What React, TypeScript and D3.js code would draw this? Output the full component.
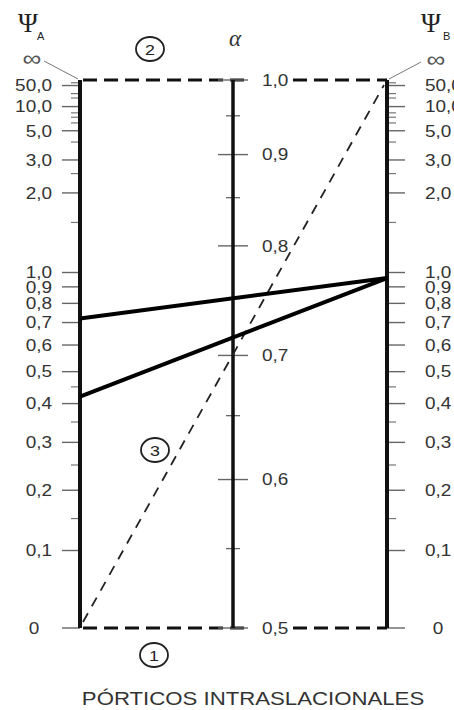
import React from 'react';
import * as d3 from 'd3';

// Ψ scale ticks (both outer axes)
const G_MAJOR = [50, 10, 5, 3, 2, 1, 0.9, 0.8, 0.7, 0.6, 0.5, 0.4, 0.3, 0.2, 0.1, 0];
const G_LABELS = ['50,0', '10,0', '5,0', '3,0', '2,0', '1,0', '0,9', '0,8', '0,7', '0,6', '0,5', '0,4', '0,3', '0,2', '0,1', '0'];
const G_MINOR = [100, 20, 15, 8, 7, 6, 4, 2.5, 1.5, 0.45, 0.35, 0.25, 0.15];

// α scale ticks (middle axis)
const K_MAJOR = [1.0, 0.9, 0.8, 0.7, 0.6, 0.5];
const K_LABELS = ['1,0', '0,9', '0,8', '0,7', '0,6', '0,5'];
const K_MINOR = [0.95, 0.85, 0.75, 0.65, 0.55];

// example readings: Ψ_A -> Ψ_B
const EX_GA = [0.72, 0.42];
const EX_GB = [0.96, 0.96];
// guide line (3): Ψ_A = 0 to Ψ_B = ∞
const GUIDE_GA = 0;
const GUIDE_GB = Infinity;

const W = 454;
const H = 710;
const xA = 80, xK = 233, xB = 387;

const FONT = 'Liberation Sans, Arial, sans-serif';
const SERIF = 'Liberation Serif, Times New Roman, serif';
const INK = '#333';

// nomograph position of Ψ: fraction 0 (Ψ=0) .. 1 (Ψ=∞)
const gFrac = (g: number) => {
  if (!isFinite(g)) return 1;
  const c = 0.51 + 0.11 * Math.exp(-g / 0.8);
  return g / (g + c);
};
const y = d3.scaleLinear().domain([0, 1]).range([628, 80]);
const yG = (g: number) => y(gFrac(g));

// α -> equivalent Ψ (Ψ_A = Ψ_B), braced-frame alignment equation
const kToG = (k: number) => {
  const x = Math.PI / k;
  const a = (x * x) / 4;
  const b = 1 - x / Math.tan(x);
  const c = (2 * Math.tan(x / 2)) / x - 1;
  return (-b + Math.sqrt(b * b - 4 * a * c)) / (2 * a);
};
const yK = (k: number) => (k >= 0.999 ? y(1) : k <= 0.501 ? y(0) : yG(kToG(k)));

const Txt: React.FC<{ x: number; y: number; anchor?: string; size?: number; fill?: string; sx?: number; children: React.ReactNode }> = ({ x, y, anchor = 'start', size = 16.5, fill = INK, sx = 1.15, children }) => (
  <text transform={`translate(${x},${y}) scale(${sx},1)`} textAnchor={anchor} fontSize={size} fill={fill} fontFamily={FONT} dy="0.35em">
    {children}
  </text>
);

const Badge: React.FC<{ cx: number; cy: number; n: string }> = ({ cx, cy, n }) => (
  <g>
    <ellipse cx={cx} cy={cy} rx={14} ry={12} fill="white" stroke="#222" strokeWidth={1.8} />
    <Txt x={cx} y={cy + 0.5} anchor="middle" size={15.5} fill="#222">{n}</Txt>
  </g>
);

export default function App() {
  const top = y(1);
  const bot = y(0);
  return (
    <svg width={W} height={H} style={{ position: 'absolute', left: 0, top: 0, background: 'white' }}>
      {/* top and bottom dashed borders */}
      {[top, bot].map((yy, i) => (
        <g key={i} stroke="#111" strokeWidth={3} strokeDasharray="14,7">
          <line x1={xA + 3} x2={xK + 18} y1={yy} y2={yy} />
          <line x1={xK + 60} x2={xB} y1={yy} y2={yy} />
        </g>
      ))}

      {/* ticks on Ψ axes */}
      {G_MAJOR.map((g, i) => (
        <g key={'gm' + i} stroke="#666" strokeWidth={1.4}>
          <line x1={xA - 18} x2={xA} y1={yG(g)} y2={yG(g)} />
          <line x1={xB} x2={xB + 18} y1={yG(g)} y2={yG(g)} />
        </g>
      ))}
      {G_MINOR.map((g, i) => (
        <g key={'gn' + i} stroke="#777" strokeWidth={1.2}>
          <line x1={xA - 9} x2={xA} y1={yG(g)} y2={yG(g)} />
          <line x1={xB} x2={xB + 9} y1={yG(g)} y2={yG(g)} />
        </g>
      ))}
      {G_MAJOR.map((g, i) =>
        g === 0 ? (
          <g key={'gl' + i}>
            <Txt x={34} y={yG(g)} anchor="middle">{G_LABELS[i]}</Txt>
            <Txt x={438} y={yG(g)} anchor="middle">{G_LABELS[i]}</Txt>
          </g>
        ) : (
          <g key={'gl' + i}>
            <Txt x={52} y={yG(g)} anchor="end">{G_LABELS[i]}</Txt>
            <Txt x={425} y={yG(g)}>{G_LABELS[i]}</Txt>
          </g>
        )
      )}

      {/* ticks on α axis */}
      {K_MAJOR.map((k, i) => (
        <g key={'km' + i}>
          <line x1={xK - 15} x2={xK + 15} y1={yK(k)} y2={yK(k)} stroke="#666" strokeWidth={1.4} />
          <Txt x={262} y={yK(k)}>{K_LABELS[i]}</Txt>
        </g>
      ))}
      {K_MINOR.map((k, i) => (
        <line key={'kn' + i} x1={xK - 7} x2={xK + 7} y1={yK(k)} y2={yK(k)} stroke="#666" strokeWidth={1.3} />
      ))}

      {/* axes */}
      <line x1={xA} x2={xA} y1={top} y2={bot} stroke="#111" strokeWidth={4} />
      <line x1={xK} x2={xK} y1={top} y2={bot} stroke="#111" strokeWidth={3.5} />
      <line x1={xB} x2={xB} y1={top} y2={bot} stroke="#111" strokeWidth={4} />

      {/* guide line (3) */}
      <line x1={xA + 3} y1={yG(GUIDE_GA) - 6} x2={xB - 3} y2={yG(GUIDE_GB) + 5} stroke="#222" strokeWidth={1.8} strokeDasharray="10,8" />

      {/* example lines */}
      {EX_GA.map((ga, i) => (
        <line key={'ex' + i} x1={xA} y1={yG(ga)} x2={xB} y2={yG(EX_GB[i])} stroke="#000" strokeWidth={4} />
      ))}

      {/* infinity pointers */}
      <line x1={44} y1={61} x2={78} y2={79} stroke="#777" strokeWidth={1} />
      <line x1={389} y1={79} x2={421} y2={62} stroke="#777" strokeWidth={1} />
      <Txt x={32} y={58} anchor="middle" size={22} fill="#555" sx={1.2}>∞</Txt>
      <Txt x={436} y={59} anchor="middle" size={22} fill="#555" sx={1.2}>∞</Txt>

      {/* axis titles */}
      <text x={18} y={32} fontSize={27} fontFamily={SERIF} fill="#222">Ψ</text>
      <text x={37} y={40} fontSize={11} fontFamily={FONT} fill="#222">A</text>
      <text x={421} y={32} fontSize={27} fontFamily={SERIF} fill="#222">Ψ</text>
      <text x={443} y={40} fontSize={11} fontFamily={FONT} fill="#222">B</text>
      <text x={235} y={46} fontSize={23} fontFamily={SERIF} fontStyle="italic" fill="#333" textAnchor="middle">α</text>

      <Badge cx={150} cy={49} n="2" />
      <Badge cx={155} cy={450} n="3" />
      <Badge cx={154} cy={655} n="1" />

      <text transform="translate(253,705) scale(1.2,1)" textAnchor="middle" fontSize={18.5} fontFamily={FONT} fill="#333">
        PÓRTICOS INTRASLACIONALES
      </text>
    </svg>
  );
}
